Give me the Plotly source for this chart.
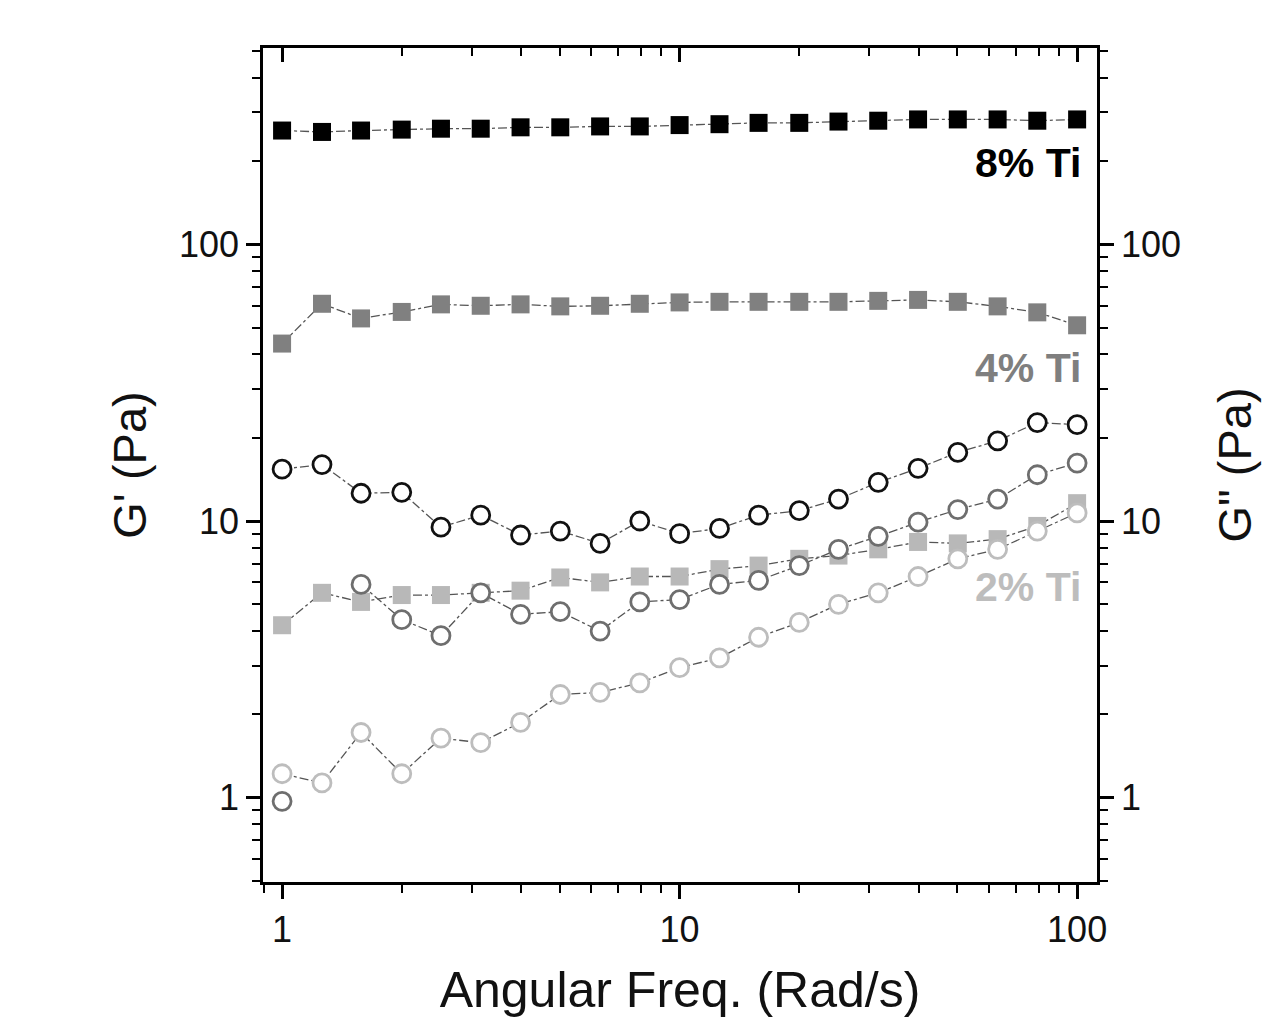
import plotly.graph_objects as go

freq = [1, 1.26, 1.58, 2, 2.51, 3.16, 3.98, 5.01, 6.31, 7.94, 10,
        12.6, 15.8, 20, 25.1, 31.6, 39.8, 50.1, 63.1, 79.4, 100]

g1_8 = [258, 255, 258, 260, 262, 262, 265, 265, 267, 267, 270,
        272, 275, 275, 278, 280, 283, 283, 283, 280, 283]
g1_4 = [43.8, 61, 54, 57, 60.7, 60, 60.7, 59.7, 60, 61, 61.7,
        62, 62, 62, 62, 62.5, 63, 62, 59.7, 56.8, 51]
g1_2 = [4.2, 5.5, 5.1, 5.4, 5.4, 5.5, 5.6, 6.25, 6.0, 6.3, 6.3,
        6.7, 6.9, 7.3, 7.5, 7.9, 8.4, 8.3, 8.6, 9.6, 11.6]

g2_8 = [15.4, 16, 12.6, 12.7, 9.5, 10.5, 8.9, 9.2, 8.3, 10, 9.0,
        9.4, 10.5, 10.9, 12.0, 13.8, 15.5, 17.7, 19.5, 22.7, 22.3]
g2_4 = [0.97, None, 5.9, 4.4, 3.85, 5.5, 4.6, 4.7, 4.0, 5.1, 5.2,
        5.9, 6.1, 6.9, 7.9, 8.8, 9.9, 11.0, 12.0, 14.7, 16.2]
g2_2 = [1.22, 1.13, 1.72, 1.22, 1.64, 1.58, 1.87, 2.36, 2.4, 2.6, 2.95,
        3.2, 3.8, 4.3, 5.0, 5.5, 6.3, 7.3, 7.9, 9.2, 10.7]

labels = ["8% Ti", "4% Ti", "2% Ti"]
label_y = [163, 368, 587]
label_colors = ["#000000", "#7f7f7f", "#bdbdbd"]

fig = go.Figure()
line_style = dict(color="#555555", width=1.3, dash="dashdot")

def add_circles(y, color):
    fig.add_trace(go.Scatter(
        x=freq, y=y, mode="lines+markers", yaxis="y2", connectgaps=False,
        line=line_style,
        marker=dict(symbol="circle", size=18, color="white",
                    line=dict(color=color, width=2.8)),
        showlegend=False))

def add_squares(y, color):
    fig.add_trace(go.Scatter(
        x=freq, y=y, mode="lines+markers", yaxis="y", connectgaps=False,
        line=line_style,
        marker=dict(symbol="square", size=18, color=color,
                    line=dict(width=0)),
        showlegend=False))

add_circles(g2_2, "#bdbdbd")
add_circles(g2_4, "#6e6e6e")
add_circles(g2_8, "#111111")
add_squares(g1_2, "#b8b8b8")
add_squares(g1_4, "#808080")
add_squares(g1_8, "#000000")

xr = [-0.048, 2.05]
yr = [-0.305, 2.71]
font = dict(family="Liberation Sans, Arial, sans-serif", color="#111111")

common = dict(type="log", showgrid=False, zeroline=False, showline=True,
              linecolor="#000000", linewidth=2.5, tickcolor="#000000",
              tickwidth=2.5, ticklen=14)
minor_out = dict(ticks="outside", ticklen=8, tickwidth=2, tickcolor="#000000",
                 dtick="D1", showgrid=False)
minor_in = dict(ticks="inside", ticklen=8, tickwidth=2, tickcolor="#000000",
                dtick="D1", showgrid=False)

fig.update_layout(
    width=1280, height=1017,
    margin=dict(l=255, r=191, t=40, b=143),
    paper_bgcolor="white", plot_bgcolor="white",
    font=font,
    xaxis=dict(**common, range=xr, ticks="outside", tickvals=[1, 10, 100],
               ticktext=["1", "10", "100"], tickfont=dict(size=36),
               minor=minor_out,
               title=dict(text="Angular Freq. (Rad/s)", font=dict(size=50), standoff=24)),
    xaxis2=dict(**common, range=xr, overlaying="x", side="top", ticks="inside",
                tickvals=[1, 10, 100], showticklabels=False, minor=minor_in),
    yaxis=dict(**common, range=yr, ticks="outside", tickvals=[1, 10, 100],
               ticktext=["1", "10", "100"], tickfont=dict(size=36),
               minor=minor_out,
               title=dict(text="G' (Pa)", font=dict(size=47), standoff=18)),
    yaxis2=dict(**common, range=yr, overlaying="y", side="right", ticks="outside",
                tickvals=[1, 10, 100], ticktext=["1", "10", "100"],
                tickfont=dict(size=36), minor=minor_out,
                title=dict(text='G" (Pa)', font=dict(size=47), standoff=39)),
)

# invisible trace to anchor the top axis
fig.add_trace(go.Scatter(x=[freq[0]], y=[g1_8[0]], xaxis="x2", mode="markers",
                         marker=dict(opacity=0), showlegend=False, hoverinfo="skip"))

for t, yp, c in zip(labels, label_y, label_colors):
    fig.add_annotation(text="<b>%s</b>" % t, xref="paper", yref="paper",
                       x=(1083 - 263) / (1097 - 263), xanchor="right",
                       y=(882 - yp) / (882 - 48), yanchor="middle",
                       showarrow=False, font=dict(size=41, color=c))

fig.write_html("out.html")
